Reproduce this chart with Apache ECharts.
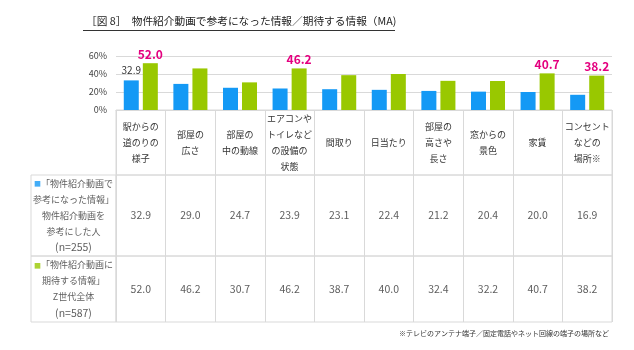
<!DOCTYPE html>
<html><head><meta charset="utf-8">
<script src="https://cdn.jsdelivr.net/npm/echarts@6/dist/echarts.min.js"></script>
<style>html,body{margin:0;padding:0;background:#fff}#c{width:634px;height:350px}</style>
</head><body><div id="c"></div>
<script>
const categories = ['駅からの\n道のりの\n様子','部屋の\n広さ','部屋の\n中の動線','エアコンや\nトイレなど\nの設備の\n状態','間取り','日当たり','部屋の\n高さや\n長さ','窓からの\n景色','家賃','コンセント\nなどの\n場所※'];
const refValues = [32.9, 29.0, 24.7, 23.9, 23.1, 22.4, 21.2, 20.4, 20.0, 16.9];
const expectValues = [52.0, 46.2, 30.7, 46.2, 38.7, 40.0, 32.4, 32.2, 40.7, 38.2];
const refLabelIdx = [0];
const expectLabelIdx = [0, 3, 8, 9];
const yMin = 0, yMax = 60, yStep = 20;
const rowLabel1 = ['「物件紹介動画で', '参考になった情報」', '物件紹介動画を', '参考にした人', '(n=255)'];
const rowLabel2 = ['「物件紹介動画に', '期待する情報」', 'Z世代全体', '(n=587)'];
const titleText = '［図 8］　物件紹介動画で参考になった情報／期待する情報（MA)';
const noteText = '※テレビのアンテナ端子／固定電話やネット回線の端子の場所など';

const BLUE = '#1499f5', GREEN = '#99c800', PINK = '#e4007f', LINE = '#d9d9d9', TXT = '#333';
const FONT = '"Noto Sans CJK JP", "Noto Sans", sans-serif';

const chart = echarts.init(document.getElementById('c'));
const hiddenAxis = (gi, data) => data ? {type:'category', gridIndex:gi, data:data, axisLine:{show:false}, axisTick:{show:false}, axisLabel:{show:false}, splitLine:{show:true, interval:0, lineStyle:{color:LINE}}}
  : {type:'value', gridIndex:gi, min:0, max:1, show:false};
const cellGrid = (l,t,w,h) => ({left:l, top:t, width:w, height:h, show:true, borderColor:LINE, borderWidth:1, backgroundColor:'transparent'});

function rowLabelText(lines, sq) {
  return lines.map((s,i) => (i===0 ? '{' + sq + '|■}' : '') + (s.charAt(0)==='(' ? '{n|' : '{t|') + s + '}').join('\n');
}

chart.setOption({
  animation:false,
  textStyle:{fontFamily:FONT},
  title:[
    {text:titleText, left:86, top:16, padding:0, textStyle:{fontSize:10.7, fontWeight:'normal', color:'#222', fontFamily:FONT}},
    {text:noteText, right:25, top:330, padding:0, textStyle:{fontSize:7, fontWeight:'normal', color:TXT, fontFamily:FONT}}
  ],
  graphic:[{type:'line', shape:{x1:83, y1:30.5, x2:395, y2:30.5}, style:{stroke:'#333', lineWidth:1}}],
  grid:[
    {left:116, top:56, width:496, height:54},
    cellGrid(116,110,496,65),
    cellGrid(116,175,496,81),
    cellGrid(116,256,496,66),
    cellGrid(31,175,85,81),
    cellGrid(31,256,85,66)
  ],
  xAxis:[
    {type:'category', gridIndex:0, data:categories, axisLine:{lineStyle:{color:LINE}}, axisTick:{show:false},
     axisLabel:{interval:0, margin:32.5, verticalAlign:'middle', lineHeight:16, fontSize:9, color:TXT, fontFamily:FONT}},
    hiddenAxis(1, categories), hiddenAxis(2, categories), hiddenAxis(3, categories),
    Object.assign(hiddenAxis(4, ['a']), {splitLine:{show:false}}),
    Object.assign(hiddenAxis(5, ['a']), {splitLine:{show:false}})
  ],
  yAxis:[
    {type:'value', gridIndex:0, min:yMin, max:yMax, interval:yStep, axisLine:{show:false}, axisTick:{show:false},
     axisLabel:{formatter:'{value}%', fontSize:9, color:'#444', margin:9, fontFamily:FONT}, splitLine:{lineStyle:{color:LINE}}},
    hiddenAxis(1), hiddenAxis(2), hiddenAxis(3), hiddenAxis(4), hiddenAxis(5)
  ],
  series:[
    {type:'bar', xAxisIndex:0, yAxisIndex:0, barWidth:15, barGap:'27%', itemStyle:{color:BLUE},
     data:refValues.map((v,i)=>({value:v, label:{show:refLabelIdx.includes(i)}})),
     label:{position:'top', distance:5, color:TXT, fontSize:10, formatter:p=>p.value.toFixed(1)}},
    {type:'bar', xAxisIndex:0, yAxisIndex:0, barWidth:15, itemStyle:{color:GREEN},
     data:expectValues.map((v,i)=>({value:v, label:{show:expectLabelIdx.includes(i)}})),
     label:{position:'top', distance:3, color:PINK, fontSize:12, fontWeight:'bold', formatter:p=>p.value.toFixed(1)}},
    {type:'scatter', xAxisIndex:2, yAxisIndex:2, symbolSize:1, itemStyle:{color:'rgba(0,0,0,0)'}, silent:true,
     data:refValues.map((v,i)=>[i,0.5,v]),
     label:{show:true, position:'inside', fontSize:10.5, color:TXT, formatter:p=>p.value[2].toFixed(1)}},
    {type:'scatter', xAxisIndex:3, yAxisIndex:3, symbolSize:1, itemStyle:{color:'rgba(0,0,0,0)'}, silent:true,
     data:expectValues.map((v,i)=>[i,0.5,v]),
     label:{show:true, position:'inside', fontSize:10.5, color:TXT, formatter:p=>p.value[2].toFixed(1)}},
    {type:'scatter', xAxisIndex:4, yAxisIndex:4, symbolSize:1, itemStyle:{color:'rgba(0,0,0,0)'}, silent:true,
     data:[[0,0.5]],
     label:{show:true, position:'inside', align:'center', formatter:()=>rowLabelText(rowLabel1,'sq'),
       rich:{t:{fontSize:9, lineHeight:16, color:TXT}, n:{fontSize:10.5, lineHeight:16, color:TXT}, sq:{fontSize:7, lineHeight:16, color:BLUE}}}},
    {type:'scatter', xAxisIndex:5, yAxisIndex:5, symbolSize:1, itemStyle:{color:'rgba(0,0,0,0)'}, silent:true,
     data:[[0,0.5]],
     label:{show:true, position:'inside', align:'center', formatter:()=>rowLabelText(rowLabel2,'sg'),
       rich:{t:{fontSize:9, lineHeight:16, color:TXT}, n:{fontSize:10.5, lineHeight:16, color:TXT}, sg:{fontSize:7, lineHeight:16, color:GREEN}}}}
  ]
});
</script></body></html>
